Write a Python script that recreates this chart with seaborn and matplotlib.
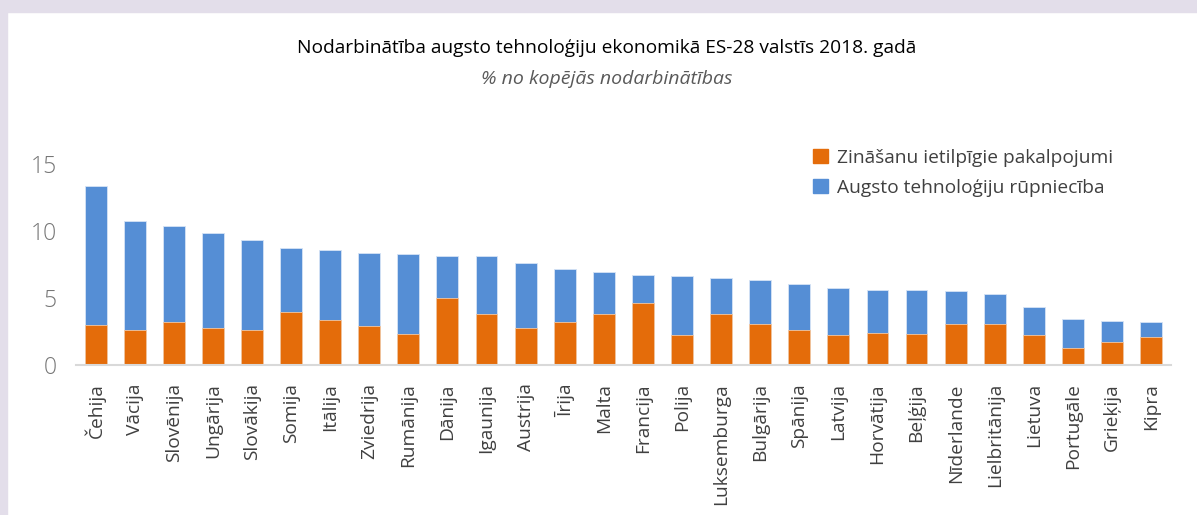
import numpy as np
import pandas as pd
import matplotlib
matplotlib.use("Agg")
import matplotlib.pyplot as plt
import seaborn as sns
from matplotlib.patches import Rectangle

# data (% of total employment)
countries = ["Čehija", "Vācija", "Slovēnija", "Ungārija", "Slovākija", "Somija",
             "Itālija", "Zviedrija", "Rumānija", "Dānija", "Igaunija", "Austrija",
             "Īrija", "Malta", "Francija", "Polija", "Luksemburga", "Bulgārija",
             "Spānija", "Latvija", "Horvātija", "Beļģija", "Nīderlande",
             "Lielbritānija", "Lietuva", "Portugāle", "Grieķija", "Kipra"]
services = [3.02, 2.63, 3.22, 2.75, 2.63, 3.95, 3.35, 2.93, 2.33, 4.99, 3.82, 2.75,
            3.22, 3.82, 4.64, 2.23, 3.82, 3.05, 2.63, 2.23, 2.43, 2.33, 3.05, 3.05,
            2.23, 1.31, 1.71, 2.13]
manufacturing = [10.33, 8.14, 7.13, 7.10, 6.72, 4.81, 5.21, 5.43, 5.93, 3.15, 4.32, 4.89,
                 3.93, 3.13, 2.08, 4.40, 2.70, 3.30, 3.40, 3.50, 3.20, 3.30, 2.48, 2.28,
                 2.11, 2.09, 1.61, 1.09]
yticks = [0, 5, 10, 15]

label_services = "Zināšanu ietilpīgie pakalpojumi"
label_manuf = "Augsto tehnoloģiju rūpniecība"
ORANGE = "#E46C0A"
BLUE = "#558ED5"

df = pd.DataFrame({"country": countries, "services": services, "manufacturing": manufacturing})
df["total"] = df["services"] + df["manufacturing"]

sns.set_theme(style="white")
plt.rcParams["font.family"] = ["Open Sans", "DejaVu Sans"]

fig = plt.figure(figsize=(11.97, 5.15), dpi=100)
ax = fig.add_axes([0.0635, 0.291, 0.9145, 0.391])

sns.barplot(data=df, x="country", y="total", color=BLUE, width=0.56,
            saturation=1, edgecolor="#D6E3F5", linewidth=0.6, ax=ax)
sns.barplot(data=df, x="country", y="services", color=ORANGE, width=0.56,
            saturation=1, edgecolor="#F4C7A0", linewidth=0.6, ax=ax)

ax.set_xlim(-0.5, len(countries) - 0.5)
ax.set_ylim(0, 15)
ax.set_yticks(yticks)
ax.set_yticklabels([str(t) for t in yticks], fontsize=16.5, color="#767676", fontweight="light")
ax.set_xticks(range(len(countries)))
ax.set_xticklabels(countries, rotation=90, fontsize=13.8, color="#404040")
ax.tick_params(axis="both", length=0)
ax.tick_params(axis="y", pad=14)
ax.tick_params(axis="x", pad=13)
ax.set_xlabel("")
ax.set_ylabel("")
sns.despine(ax=ax, left=True, top=True, right=True)
ax.spines["bottom"].set_color("#D9D9D9")
ax.spines["bottom"].set_linewidth(1.5)

# legend
handles = [Rectangle((0, 0), 1, 1, color=ORANGE), Rectangle((0, 0), 1, 1, color=BLUE)]
fig.legend(handles, [label_services, label_manuf], loc="upper left",
           bbox_to_anchor=(0.665, 0.745), frameon=False, fontsize=13.8,
           handlelength=0.75, handleheight=0.75, handletextpad=0.5, labelspacing=0.65,
           labelcolor="#404040")

fig.text(0.507, 0.906, "Nodarbinātība augsto tehnoloģiju ekonomikā ES-28 valstīs 2018. gadā",
         ha="center", va="center", fontsize=13.8, color="black")
fig.text(0.507, 0.846, "% no kopējās nodarbinātības", ha="center", va="center",
         fontsize=14, color="#595959", style="italic")

# light lavender frame on top and left edges
fig.patches.append(Rectangle((0, 1 - 12 / 515), 1, 12 / 515, transform=fig.transFigure,
                             color="#E3DEEA", zorder=0))
fig.patches.append(Rectangle((0, 0), 7 / 1197, 1, transform=fig.transFigure,
                             color="#E3DEEA", zorder=0))

fig.savefig("out.png", dpi=100)
plt.close(fig)
